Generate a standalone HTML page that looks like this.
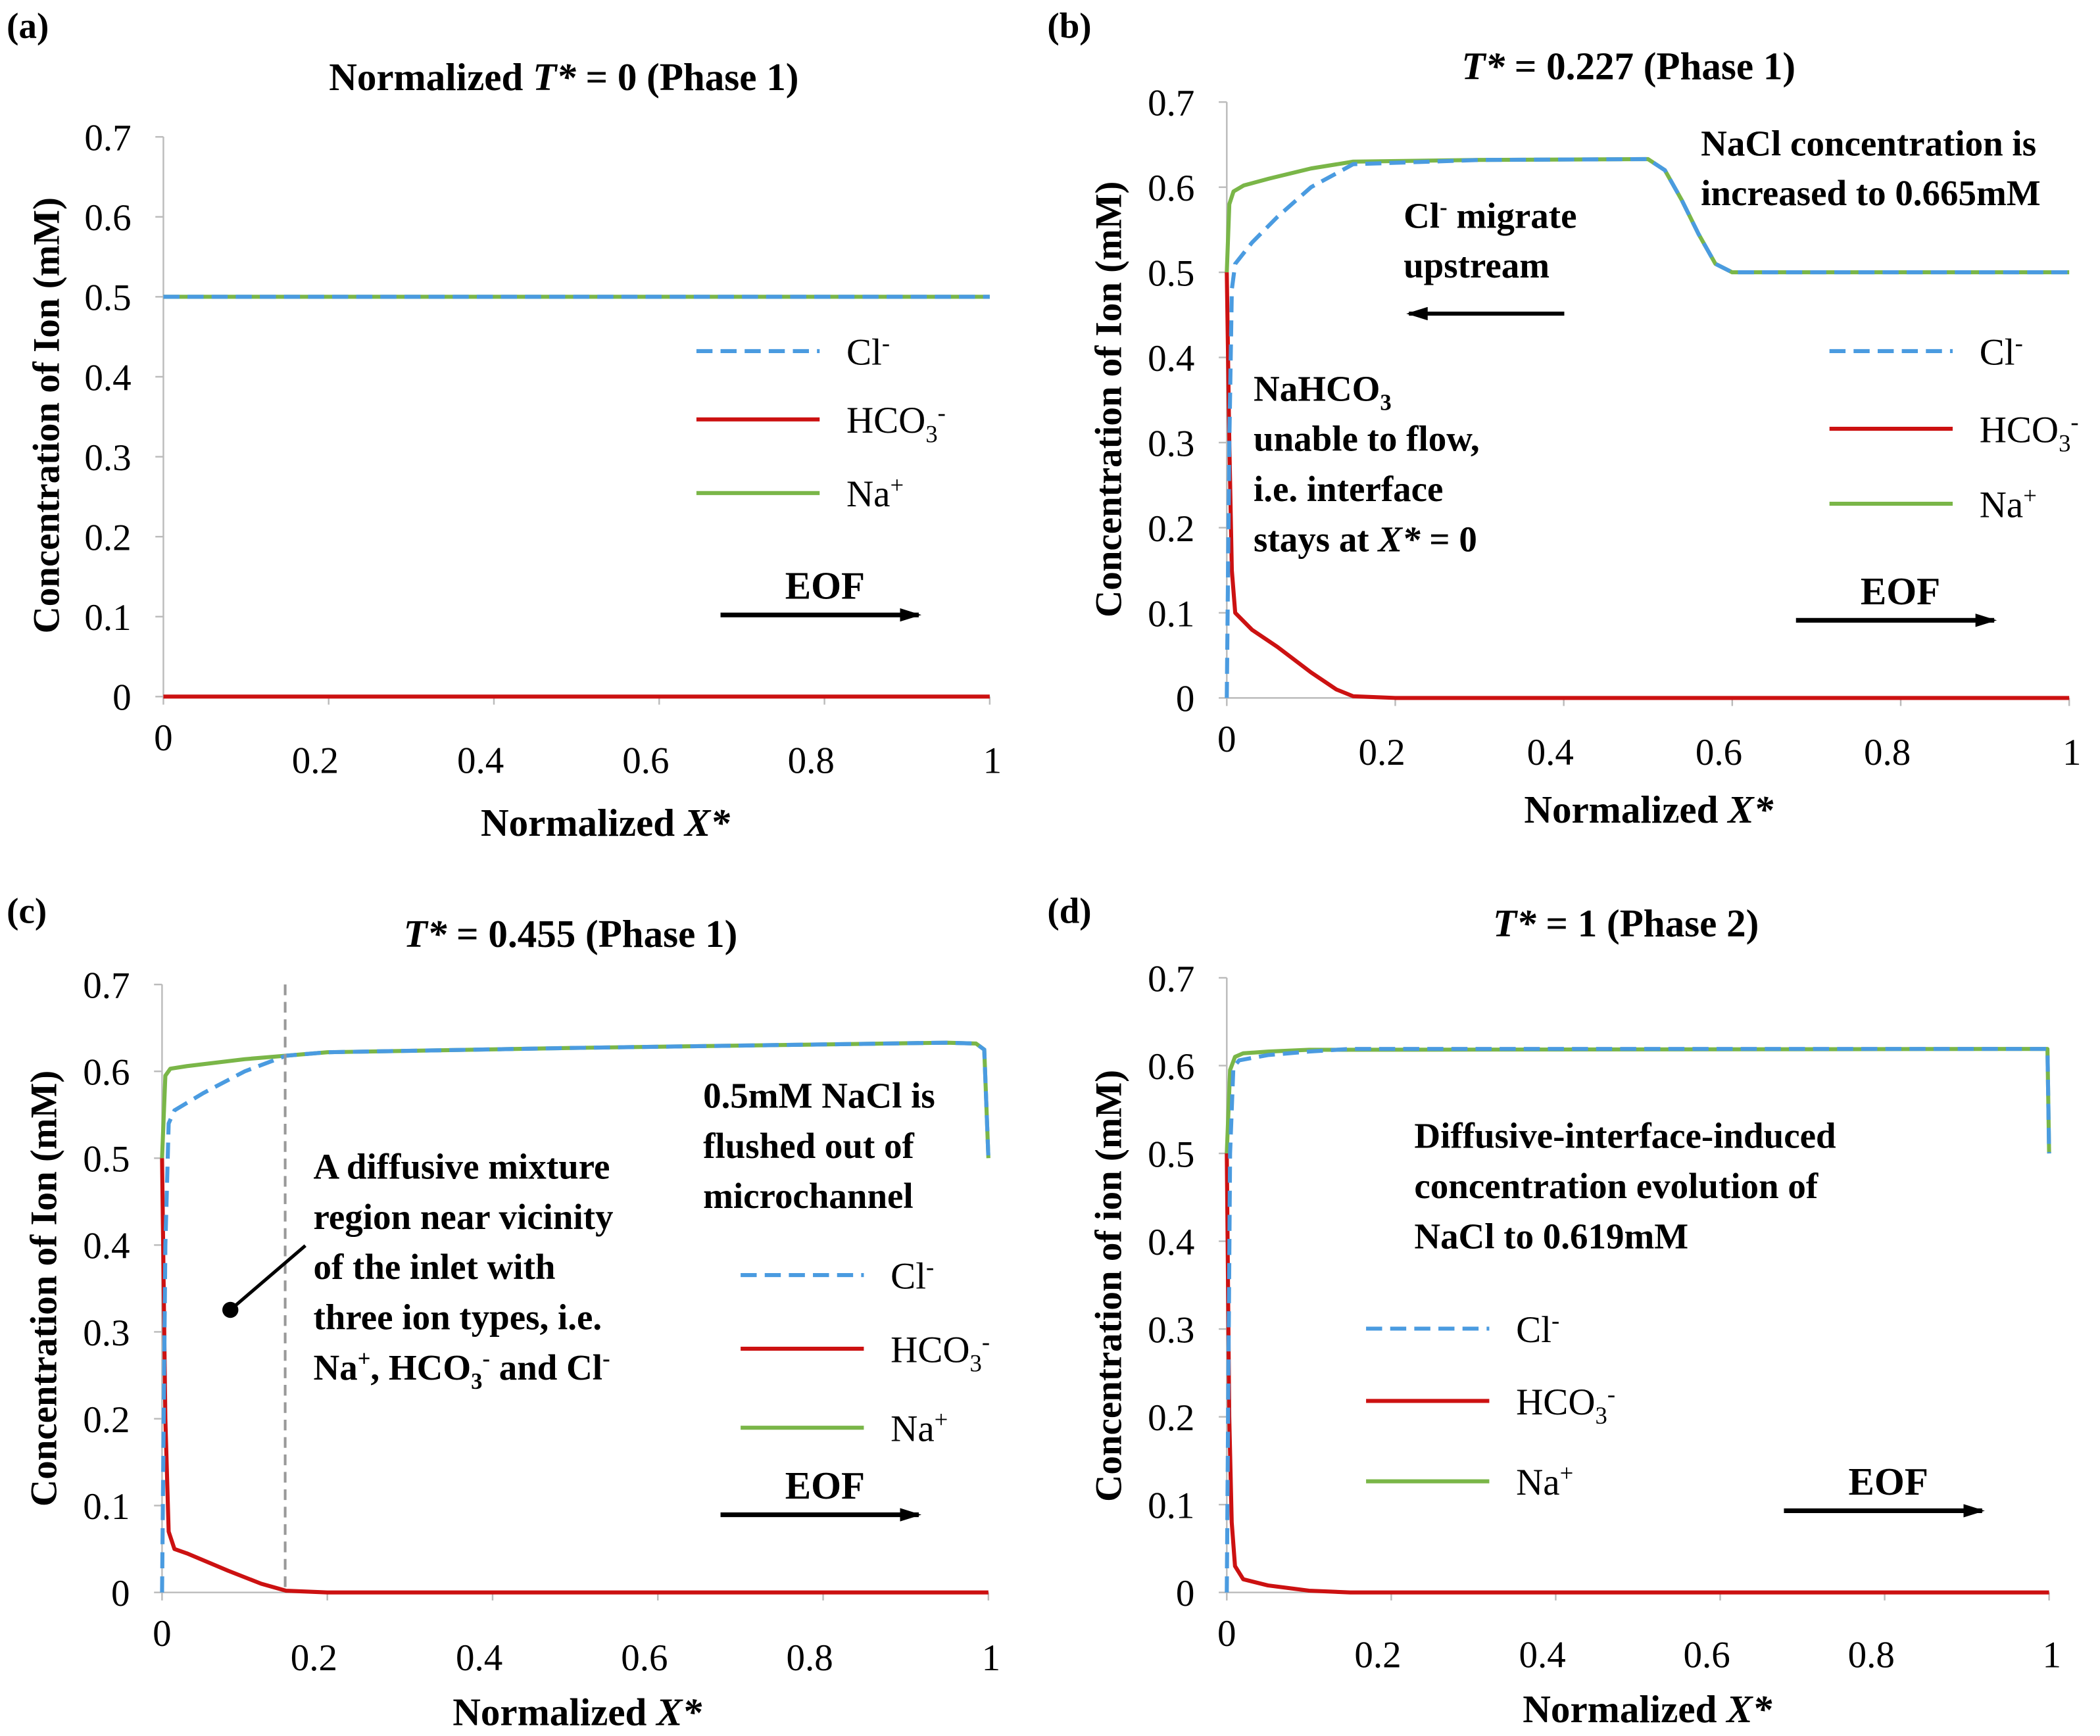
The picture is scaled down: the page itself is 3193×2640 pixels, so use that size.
<!DOCTYPE html>
<html><head><meta charset="utf-8"><style>
html,body{margin:0;padding:0;background:#fff}
svg{display:block}
svg, svg text, svg tspan{font-family:"Liberation Serif","Times New Roman","DejaVu Serif",serif}
text{fill:#000}
.b{font-weight:bold}
.tk{font-size:28px}
.lg{font-size:28px}
.an{font-size:27px;font-weight:bold}
</style></head><body>
<svg id="fig" width="3193" height="2640" viewBox="0 0 1568 1296" xmlns="http://www.w3.org/2000/svg" font-family="Liberation Serif, serif">
<defs>
<marker id="ah2" markerWidth="16" markerHeight="10" refX="14" refY="5" orient="auto" markerUnits="userSpaceOnUse"><path d="M0,0 L16,5 L0,10 Z"/></marker></defs>
<g id="root"></g>
</svg>
<script>
// ---- data ----
const yTicks = [0,0.1,0.2,0.3,0.4,0.5,0.6,0.7];
const yTickLabels = ["0","0.1","0.2","0.3","0.4","0.5","0.6","0.7"];
const xTickLabels = ["0","0.2","0.4","0.6","0.8","1"];
const xTicks = [0,0.2,0.4,0.6,0.8,1];
// panel a
const aX = [0,1];
const aCl = [0.5,0.5];
const aNa = [0.5,0.5];
const aHX = [0,1];
const aH = [0,0];
// panel b
const bNaX = [0,0.003,0.008,0.02,0.05,0.1,0.15,0.3,0.5,0.52,0.54,0.56,0.58,0.6,1];
const bNa  = [0.5,0.58,0.595,0.602,0.61,0.622,0.63,0.632,0.633,0.62,0.585,0.545,0.51,0.5,0.5];
const bClX = [0,0.003,0.006,0.01,0.03,0.06,0.1,0.15,0.3,0.5,0.52,0.54,0.56,0.58,0.6,1];
const bCl  = [0,0.3,0.48,0.51,0.535,0.565,0.6,0.627,0.632,0.633,0.62,0.585,0.545,0.51,0.5,0.5];
const bHX = [0,0.003,0.006,0.01,0.03,0.06,0.1,0.13,0.15,0.2,1];
const bH  = [0.5,0.3,0.15,0.1,0.08,0.06,0.03,0.01,0.002,0,0];
// panel c
const cNaX = [0,0.004,0.01,0.03,0.1,0.2,0.5,0.95,0.985,0.995,1];
const cNa  = [0.5,0.595,0.603,0.606,0.614,0.622,0.627,0.633,0.632,0.625,0.5];
const cClX = [0,0.004,0.008,0.015,0.05,0.1,0.15,0.2,0.5,0.95,0.985,0.995,1];
const cCl  = [0,0.4,0.54,0.555,0.575,0.6,0.618,0.622,0.627,0.633,0.632,0.625,0.5];
const cHX = [0,0.004,0.008,0.015,0.03,0.08,0.12,0.15,0.2,1];
const cH  = [0.5,0.2,0.07,0.05,0.045,0.025,0.01,0.002,0,0];
// panel d
const dNaX = [0,0.004,0.01,0.02,0.05,0.1,0.998,1];
const dNa  = [0.5,0.595,0.61,0.614,0.616,0.618,0.619,0.5];
const dClX = [0,0.004,0.008,0.015,0.05,0.1,0.15,0.998,1];
const dCl  = [0,0.5,0.598,0.606,0.612,0.616,0.619,0.619,0.5];
const dHX = [0,0.003,0.006,0.01,0.02,0.05,0.1,0.15,1];
const dH  = [0.5,0.2,0.08,0.03,0.015,0.008,0.002,0,0];

const NS="http://www.w3.org/2000/svg";
const root=document.getElementById('root');
function mk(tag,attrs,parent,txt){const e=document.createElementNS(NS,tag);for(const k in attrs)e.setAttribute(k,attrs[k]);if(txt!==undefined)e.textContent=txt;(parent||root).appendChild(e);return e;}

const CL="#4a9be0", HC="#cc1111", NA="#7ab648";

function panel(id,P){
  const g=mk('g',{});
  
  
  const sx=v=>P.x0+(P.x1-P.x0)*v;
  const sy=v=>P.y0-(P.y0-P.y7)*v/0.7;
  const ya=mk('line',{x1:P.x0,y1:P.y0,x2:P.x0,y2:P.y7,stroke:'#bbb','stroke-width':1.2},g);
  
  
  const xa=mk('line',{x1:P.x0,y1:P.y0,x2:P.x1,y2:P.y0,stroke:'#bbb','stroke-width':1.2},g);
  
  
  yTicks.forEach((v,i)=>{
    mk('line',{x1:P.x0-6,y1:sy(v),x2:P.x0,y2:sy(v),stroke:'#bbb','stroke-width':1.2},g);
    const t=mk('text',{x:P.x0-24,y:sy(v)+10,'text-anchor':'end',class:'tk'},g,yTickLabels[i]);
    
    
  });
  xTicks.forEach((v,i)=>{
    mk('line',{x1:sx(v),y1:P.y0,x2:sx(v),y2:P.y0+6,stroke:'#bbb','stroke-width':1.2},g);
    const xx = i==0? sx(v) : (i==5? sx(v)+2 : sx(v)-10);
    const yy = i==0? P.y0+40 : P.y0+P.xl;
    const t=mk('text',{x:xx,y:yy,'text-anchor':'middle',class:'tk'},g,xTickLabels[i]);
    
    
  });
  const path=(X,Y)=>X.map((x,i)=>(i?'L':'M')+sx(x).toFixed(2)+','+sy(Y[i]).toFixed(2)).join(' ');
  const na=mk('path',{d:path(P.naX,P.na),fill:'none',stroke:NA,'stroke-width':3,'stroke-linejoin':'round'},g);
  
  
  const hc=mk('path',{d:path(P.hX,P.h),fill:'none',stroke:HC,'stroke-width':3,'stroke-linejoin':'round'},g);
  
  
  const cl=mk('path',{d:path(P.clX,P.cl),fill:'none',stroke:CL,'stroke-width':3,'stroke-dasharray':'12,6'},g);
  
  
  const L=P.leg;
  const items=[['Cl','-',CL,true],['HCO','-',HC,false],['Na','+',NA,false]];
  items.forEach((it,i)=>{
    const ly=L.ys[i];
    const ln=mk('line',{x1:L.x,y1:ly,x2:L.x+92,y2:ly,stroke:it[2],'stroke-width':3},g);
    if(it[3]) ln.setAttribute('stroke-dasharray','12,6');
    
    
    const t=mk('text',{x:L.x+112,y:ly+10,class:'lg'},g);
    
    
    t.appendChild(document.createTextNode(it[0]));
    if(i==1){mk('tspan',{'font-size':18,dy:7},t,'3');mk('tspan',{'font-size':18,dy:-16},t,'-');}
    else mk('tspan',{'font-size':18,dy:-10},t,it[1]);
  });
  const e=mk('text',{x:P.eof[0],y:P.eof[1],'text-anchor':'middle','font-size':29,class:'b'},g,'EOF');
  
  
  const ar=mk('line',{x1:P.eof[0]-78,y1:P.eof[1]+12,x2:P.eof[0]+70,y2:P.eof[1]+12,stroke:'#000','stroke-width':3.5,'marker-end':'url(#ah2)'},g);
  
  
  const yt=mk('text',{x:0,y:0,'text-anchor':'middle','font-size':28,class:'b',transform:`translate(${P.yt[0]},${P.yt[1]}) rotate(-90)`},g,P.ytText);
  
  
  const xt=mk('text',{x:P.xt[0],y:P.xt[1],'text-anchor':'middle','font-size':29,class:'b'},g);
  
  
  xt.appendChild(document.createTextNode('Normalized '));
  mk('tspan',{'font-style':'italic'},xt,'X*');
  const tt=mk('text',{x:P.tt[0],y:P.tt[1],'text-anchor':'middle','font-size':29,class:'b'},g);
  
  
  tt.appendChild(document.createTextNode(P.ttPre));
  mk('tspan',{'font-style':'italic'},tt,'T*');
  tt.appendChild(document.createTextNode(P.ttPost));
  const pl=mk('text',{x:P.pl[0],y:P.pl[1],'font-size':27,class:'b'},g,'('+id+')');
  
  
  return {g,sx,sy};
}

panel('a',{x0:122,x1:739,y0:520,y7:102,xl:57,naX:aX,na:aNa,clX:aX,cl:aCl,hX:aHX,h:aH,
  leg:{x:520,ys:[262,313,368]},eof:[616,447],yt:[44,310],ytText:'Concentration of Ion (mM)',xt:[452,624],
  tt:[421,67],ttPre:'Normalized  ',ttPost:' = 0 (Phase 1)',pl:[5,28]});
panel('b',{x0:916,x1:1545,y0:521,y7:76,xl:50,naX:bNaX,na:bNa,clX:bClX,cl:bCl,hX:bHX,h:bH,
  leg:{x:1366,ys:[262,320,376]},eof:[1419,451],yt:[837,298],ytText:'Concentration of Ion (mM)',xt:[1231,614],
  tt:[1216,59],ttPre:'',ttPost:' = 0.227 (Phase 1)',pl:[782,28]});
const C=panel('c',{x0:121,x1:738,y0:1189,y7:735,xl:58,naX:cNaX,na:cNa,clX:cClX,cl:cCl,hX:cHX,h:cH,
  leg:{x:553,ys:[952,1007,1066]},eof:[616,1119],yt:[42,962],ytText:'Concentration of Ion (mM)',xt:[431,1288],
  tt:[426,707],ttPre:'',ttPost:' = 0.455 (Phase 1)',pl:[5,689]});
panel('d',{x0:916,x1:1530,y0:1189,y7:730,xl:56,naX:dNaX,na:dNa,clX:dClX,cl:dCl,hX:dHX,h:dH,
  leg:{x:1020,ys:[992,1046,1106]},eof:[1410,1116],yt:[837,960],ytText:'Concentration of ion (mM)',xt:[1230,1286],
  tt:[1214,699],ttPre:'',ttPost:' = 1 (Phase 2)',pl:[782,689]});

function ann(lines,x,y0,dy,name){
  const g=mk('g',{});
  
  
  lines.forEach((l,i)=>{const t=mk('text',{x:x,y:y0+i*dy,class:'an'},g);t.innerHTML=l;});
}
ann(['Cl<tspan font-size="17" dy="-10">-</tspan><tspan dy="10"> migrate</tspan>','upstream'],1048,170,37,'cl-migrate-note');
ann(['NaCl concentration is','increased to 0.665mM'],1270,116,37,'nacl-increase-note');
ann(['NaHCO<tspan font-size="17" dy="7">3</tspan>','unable to flow,','i.e. interface','stays at <tspan font-style="italic">X*</tspan> = 0'],936,299,37.5,'nahco3-note');
ann(['0.5mM NaCl is','flushed out of','microchannel'],525,827,37.5,'flush-note');
ann(['A diffusive mixture','region near vicinity','of the inlet with','three ion types, i.e.','Na<tspan font-size="17" dy="-10">+</tspan><tspan dy="10">, HCO</tspan><tspan font-size="17" dy="7">3</tspan><tspan font-size="17" dy="-17">-</tspan><tspan dy="10"> and Cl</tspan><tspan font-size="17" dy="-10">-</tspan>'],234,880,37.5,'mixture-note');
ann(['Diffusive-interface-induced','concentration evolution of','NaCl to 0.619mM'],1056,857,37.5,'evolution-note');

const ma=mk('line',{x1:1168,y1:234,x2:1052,y2:234,stroke:'#000','stroke-width':3,'marker-end':'url(#ah2)'});


const vl=mk('line',{x1:C.sx(0.149),y1:C.sy(0.7),x2:C.sx(0.149),y2:C.sy(0),stroke:'#999','stroke-width':2,'stroke-dasharray':'8,5'});


const pt=mk('line',{x1:172,y1:978,x2:228,y2:930,stroke:'#000','stroke-width':2.5});


const dot=mk('circle',{cx:172,cy:978,r:6,fill:'#000'});


</script>
</body></html>
